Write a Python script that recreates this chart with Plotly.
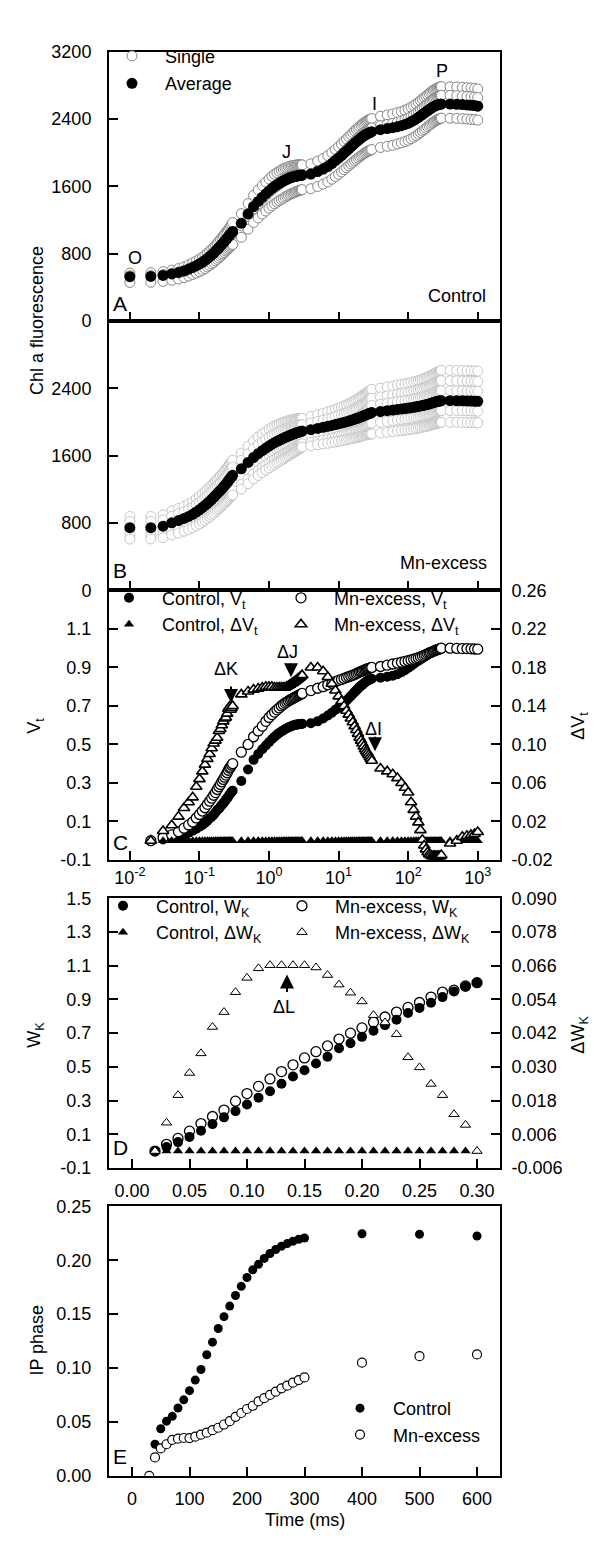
import plotly.graph_objects as go

# ---------------------------------------------------------------- time grid (ms)
T_FAST = [0.01, 0.02, 0.03, 0.04, 0.05, 0.06, 0.07, 0.08, 0.09, 0.10,
          0.11, 0.12, 0.13, 0.14, 0.15, 0.16, 0.17, 0.18, 0.19, 0.20,
          0.21, 0.22, 0.23, 0.24, 0.25, 0.26, 0.27, 0.28, 0.29, 0.30]
T_MID = [0.4, 0.5, 0.6, 0.7, 0.8, 0.9, 1.0, 1.1, 1.2, 1.3, 1.4, 1.5, 1.6, 1.7,
         1.8, 1.9, 2.0, 2.1, 2.2, 2.3, 2.4, 2.5, 2.6, 2.7, 2.8, 2.9, 3.0]
T_SLOW = [4, 5, 6, 7, 8, 9, 10, 11, 12, 13, 14, 15, 16, 17, 18, 19, 20,
          21, 22, 23, 24, 25, 26, 27, 28, 29, 30]
T_LONG = [40, 50, 60, 70, 80, 90, 100, 110, 120, 130, 140, 150, 160, 170,
          180, 190, 200, 210, 220, 230, 240, 250, 260, 270, 280, 290, 300]
T_END = [400, 500, 600, 700, 800, 900, 1000]
TIME_MS = T_FAST + T_MID + T_SLOW + T_LONG + T_END
TIME_NORM = TIME_MS[1:]          # Vt / dVt start at 20 us

# ---------------------------------------------------------------- panel A (control)
A_AVG = [527, 530, 542, 559, 575, 594, 616, 637, 657, 678, 698, 719, 743, 766, 786, 807, 829, 850, 870, 891, 911, 928, 946, 967, 983, 999, 1018, 1034, 1051, 1063,
         1160, 1270, 1360, 1420, 1470, 1510, 1545, 1575, 1598, 1618, 1635, 1650, 1663, 1674, 1684, 1692, 1700, 1706, 1711, 1715, 1719, 1722, 1725, 1727, 1729, 1731, 1733,
         1745, 1775, 1805, 1835, 1870, 1905, 1935, 1965, 1995, 2020, 2045, 2068, 2090, 2110, 2128, 2145, 2160, 2174, 2187, 2198, 2208, 2217, 2225, 2232, 2238, 2243, 2248,
         2272, 2285, 2296, 2308, 2320, 2334, 2348, 2365, 2382, 2400, 2418, 2436, 2452, 2468, 2483, 2497, 2510, 2522, 2533, 2543, 2551, 2558, 2564, 2569, 2572, 2575, 2577,
         2576, 2574, 2570, 2566, 2562, 2558, 2552]
A_SINGLE_1 = [569, 573, 586, 604, 622, 643, 667, 690, 712, 735, 757, 780, 806, 831, 853, 876, 900, 923, 945, 968, 990, 1009, 1029, 1051, 1069, 1087, 1108, 1126, 1145, 1169,
              1275, 1394, 1492, 1556, 1608, 1650, 1687, 1718, 1742, 1762, 1779, 1794, 1806, 1816, 1824, 1831, 1838, 1842, 1846, 1849, 1851, 1853, 1854, 1855, 1853, 1854, 1854,
              1867, 1899, 1931, 1963, 2001, 2038, 2070, 2103, 2135, 2161, 2188, 2213, 2236, 2258, 2277, 2295, 2311, 2326, 2340, 2352, 2363, 2372, 2381, 2388, 2395, 2400, 2405,
              2432, 2447, 2459, 2473, 2487, 2503, 2519, 2538, 2557, 2577, 2597, 2618, 2636, 2654, 2671, 2687, 2702, 2716, 2729, 2741, 2750, 2759, 2766, 2772, 2777, 2781, 2783,
              2782, 2780, 2776, 2771, 2767, 2763, 2756]
A_SINGLE_2 = [538, 540, 551, 567, 582, 601, 622, 642, 661, 681, 700, 720, 742, 764, 783, 802, 823, 842, 860, 879, 898, 913, 929, 948, 962, 976, 993, 1007, 1022, 1031,
              1131, 1242, 1333, 1394, 1446, 1489, 1526, 1559, 1582, 1605, 1624, 1640, 1655, 1667, 1679, 1689, 1698, 1706, 1711, 1715, 1719, 1722, 1725, 1727, 1729, 1731, 1733,
              1746, 1778, 1809, 1841, 1877, 1914, 1945, 1977, 2009, 2036, 2062, 2087, 2111, 2133, 2152, 2171, 2188, 2204, 2219, 2232, 2244, 2254, 2264, 2273, 2281, 2288, 2293,
              2319, 2334, 2347, 2361, 2375, 2391, 2408, 2427, 2446, 2466, 2487, 2507, 2526, 2544, 2561, 2578, 2593, 2607, 2621, 2633, 2643, 2652, 2661, 2668, 2673, 2678, 2680,
              2679, 2677, 2673, 2669, 2664, 2660, 2654]
A_SINGLE_3 = [458, 461, 471, 485, 499, 515, 534, 552, 569, 587, 604, 622, 642, 661, 678, 696, 715, 732, 749, 767, 783, 798, 813, 830, 843, 857, 872, 886, 900, 909,
              994, 1090, 1170, 1224, 1270, 1306, 1340, 1369, 1392, 1411, 1429, 1445, 1458, 1471, 1484, 1494, 1503, 1512, 1519, 1525, 1532, 1538, 1544, 1547, 1553, 1556, 1560,
              1571, 1598, 1625, 1652, 1684, 1716, 1743, 1771, 1798, 1821, 1844, 1865, 1885, 1903, 1920, 1935, 1950, 1963, 1975, 1986, 1996, 2005, 2013, 2020, 2026, 2031, 2037,
              2061, 2075, 2087, 2103, 2116, 2131, 2146, 2164, 2182, 2201, 2220, 2239, 2256, 2273, 2289, 2307, 2322, 2335, 2348, 2360, 2370, 2379, 2387, 2394, 2400, 2405, 2409,
              2408, 2406, 2403, 2399, 2395, 2392, 2386]

# ---------------------------------------------------------------- panel B (Mn-excess)
B_AVG = [745, 746, 764, 803, 830, 855, 880, 905, 932, 958, 985, 1010, 1035, 1058, 1082, 1105, 1128, 1150, 1170, 1188, 1207, 1226, 1245, 1263, 1282, 1300, 1318, 1336, 1352, 1368,
         1445, 1520, 1580, 1625, 1660, 1690, 1715, 1737, 1755, 1770, 1784, 1796, 1807, 1817, 1826, 1834, 1842, 1849, 1856, 1862, 1867, 1872, 1877, 1881, 1885, 1889, 1893,
         1910, 1925, 1937, 1950, 1960, 1970, 1980, 1988, 1996, 2004, 2012, 2020, 2027, 2034, 2041, 2048, 2055, 2062, 2069, 2076, 2082, 2088, 2094, 2099, 2104, 2109, 2114,
         2125, 2135, 2143, 2150, 2156, 2161, 2166, 2171, 2176, 2181, 2186, 2191, 2196, 2201, 2206, 2211, 2216, 2221, 2226, 2231, 2236, 2240, 2244, 2247, 2250, 2252, 2254,
         2254, 2253, 2252, 2251, 2250, 2248, 2246]
B_SINGLE_1 = [879, 879, 898, 944, 974, 1001, 1029, 1056, 1087, 1115, 1145, 1172, 1200, 1224, 1250, 1274, 1299, 1323, 1343, 1361, 1382, 1401, 1421, 1439, 1459, 1477, 1495, 1514, 1529, 1546,
              1630, 1712, 1776, 1823, 1859, 1889, 1916, 1937, 1953, 1966, 1978, 1988, 1997, 2004, 2010, 2016, 2021, 2025, 2029, 2033, 2035, 2037, 2038, 2041, 2041, 2042, 2044,
              2067, 2087, 2104, 2122, 2136, 2151, 2166, 2179, 2192, 2204, 2217, 2230, 2242, 2254, 2266, 2277, 2289, 2301, 2313, 2325, 2334, 2345, 2356, 2363, 2371, 2381, 2389,
              2403, 2417, 2428, 2438, 2447, 2455, 2463, 2471, 2478, 2486, 2494, 2502, 2510, 2518, 2526, 2534, 2544, 2552, 2560, 2568, 2576, 2583, 2592, 2598, 2603, 2608, 2615,
              2614, 2613, 2612, 2611, 2610, 2608, 2605]
B_SINGLE_2 = [820, 820, 839, 881, 910, 936, 963, 989, 1018, 1045, 1074, 1100, 1126, 1150, 1175, 1199, 1223, 1245, 1266, 1284, 1304, 1323, 1342, 1360, 1379, 1398, 1416, 1434, 1449, 1464,
              1545, 1623, 1686, 1732, 1766, 1796, 1821, 1843, 1860, 1874, 1887, 1898, 1908, 1917, 1923, 1929, 1936, 1941, 1947, 1951, 1955, 1958, 1961, 1964, 1964, 1966, 1969,
              1988, 2008, 2022, 2040, 2052, 2067, 2079, 2091, 2102, 2114, 2125, 2137, 2147, 2158, 2168, 2179, 2189, 2200, 2210, 2221, 2230, 2240, 2249, 2259, 2266, 2276, 2283,
              2297, 2310, 2321, 2331, 2339, 2347, 2354, 2362, 2370, 2377, 2385, 2393, 2400, 2408, 2416, 2423, 2431, 2439, 2446, 2454, 2462, 2468, 2475, 2481, 2484, 2488, 2491,
              2491, 2490, 2488, 2487, 2486, 2484, 2482]
B_SINGLE_3 = [708, 708, 725, 762, 787, 810, 833, 856, 881, 905, 930, 953, 976, 997, 1019, 1040, 1061, 1081, 1099, 1116, 1133, 1150, 1167, 1183, 1200, 1216, 1232, 1248, 1263, 1272,
              1345, 1417, 1474, 1518, 1554, 1584, 1609, 1631, 1650, 1666, 1681, 1694, 1706, 1719, 1729, 1739, 1748, 1757, 1765, 1773, 1779, 1786, 1794, 1800, 1806, 1812, 1817,
              1839, 1860, 1877, 1895, 1911, 1927, 1942, 1956, 1970, 1984, 1998, 2012, 2025, 2038, 2051, 2064, 2078, 2091, 2104, 2118, 2130, 2142, 2155, 2166, 2178, 2187, 2199,
              2211, 2222, 2232, 2240, 2248, 2254, 2260, 2267, 2273, 2279, 2285, 2292, 2298, 2304, 2311, 2317, 2323, 2330, 2336, 2343, 2349, 2354, 2360, 2364, 2368, 2371, 2373,
              2373, 2372, 2371, 2370, 2369, 2367, 2365]
B_SINGLE_4 = [656, 656, 672, 706, 730, 752, 774, 796, 819, 843, 866, 888, 909, 929, 949, 969, 989, 1007, 1024, 1040, 1056, 1072, 1087, 1103, 1119, 1134, 1149, 1164, 1177, 1190,
              1260, 1328, 1384, 1427, 1461, 1491, 1516, 1539, 1557, 1574, 1590, 1604, 1617, 1630, 1642, 1652, 1663, 1673, 1682, 1691, 1699, 1707, 1716, 1723, 1729, 1736, 1742,
              1759, 1774, 1786, 1800, 1809, 1820, 1832, 1839, 1848, 1858, 1865, 1875, 1883, 1890, 1898, 1907, 1913, 1922, 1930, 1939, 1945, 1952, 1960, 1967, 1974, 1980, 1987,
              1998, 2008, 2017, 2024, 2030, 2036, 2041, 2046, 2052, 2057, 2063, 2068, 2074, 2079, 2085, 2090, 2095, 2101, 2106, 2112, 2118, 2122, 2126, 2130, 2133, 2135, 2137,
              2137, 2136, 2135, 2134, 2133, 2131, 2129]
B_SINGLE_5 = [611, 612, 627, 659, 682, 703, 724, 745, 768, 790, 813, 834, 855, 875, 896, 915, 935, 954, 971, 987, 1003, 1019, 1035, 1051, 1067, 1082, 1097, 1113, 1126, 1135,
              1204, 1269, 1324, 1365, 1399, 1430, 1454, 1478, 1499, 1515, 1532, 1546, 1561, 1575, 1587, 1599, 1610, 1622, 1633, 1642, 1652, 1660, 1671, 1680, 1687, 1696, 1704,
              1717, 1731, 1739, 1749, 1758, 1765, 1772, 1779, 1784, 1790, 1797, 1802, 1806, 1812, 1816, 1821, 1827, 1831, 1835, 1841, 1845, 1848, 1853, 1856, 1858, 1858, 1860,
              1870, 1879, 1887, 1894, 1899, 1904, 1909, 1914, 1919, 1924, 1929, 1934, 1939, 1943, 1948, 1953, 1958, 1963, 1968, 1973, 1978, 1982, 1986, 1989, 1992, 1995, 1997,
              1997, 1996, 1995, 1994, 1993, 1992, 1990]

# ---------------------------------------------------------------- panel C (Vt, dVt)
VT_CONTROL = [0, 0.006, 0.014, 0.022, 0.031, 0.042, 0.052, 0.062, 0.072, 0.082, 0.092, 0.104, 0.115, 0.125, 0.135, 0.146, 0.159, 0.166, 0.176, 0.186, 0.194, 0.203, 0.213, 0.221, 0.229, 0.238, 0.246, 0.254, 0.260,
              0.31, 0.37, 0.42, 0.45, 0.475, 0.495, 0.512, 0.527, 0.54, 0.55, 0.56, 0.567, 0.573, 0.579, 0.584, 0.588, 0.592, 0.595, 0.598, 0.600, 0.602, 0.603, 0.604, 0.605, 0.606, 0.606, 0.607,
              0.61, 0.62, 0.635, 0.65, 0.665, 0.68, 0.69, 0.70, 0.715, 0.728, 0.74, 0.752, 0.762, 0.772, 0.781, 0.79, 0.798, 0.805, 0.811, 0.817, 0.822, 0.827, 0.831, 0.834, 0.837, 0.839, 0.841,
              0.847, 0.852, 0.857, 0.865, 0.875, 0.886, 0.897, 0.908, 0.918, 0.927, 0.935, 0.942, 0.948, 0.954, 0.96, 0.966, 0.971, 0.975, 0.979, 0.983, 0.986, 0.989, 0.992, 0.995, 0.997, 0.999, 1.0,
              1.0, 0.999, 0.998, 0.998, 0.997, 0.996, 0.995]
VT_MN = [0, 0.016, 0.030, 0.047, 0.065, 0.082, 0.097, 0.118, 0.136, 0.154, 0.171, 0.189, 0.205, 0.221, 0.236, 0.250, 0.266, 0.280, 0.292, 0.306, 0.318, 0.330, 0.341, 0.353, 0.366, 0.377, 0.382, 0.392, 0.400,
         0.46, 0.50, 0.54, 0.57, 0.595, 0.62, 0.64, 0.655, 0.668, 0.68, 0.69, 0.70, 0.708, 0.715, 0.72, 0.726, 0.731, 0.735, 0.739, 0.743, 0.747, 0.75, 0.753, 0.756, 0.759, 0.762, 0.765,
         0.78, 0.792, 0.80, 0.81, 0.818, 0.826, 0.833, 0.838, 0.843, 0.848, 0.852, 0.856, 0.86, 0.864, 0.868, 0.872, 0.876, 0.879, 0.882, 0.885, 0.888, 0.891, 0.893, 0.895, 0.897, 0.899, 0.90,
         0.905, 0.912, 0.918, 0.923, 0.927, 0.931, 0.935, 0.939, 0.943, 0.947, 0.951, 0.955, 0.959, 0.963, 0.967, 0.971, 0.975, 0.978, 0.981, 0.984, 0.987, 0.99, 0.992, 0.994, 0.996, 0.998, 1.0,
         1.0, 0.999, 0.998, 0.998, 0.997, 0.996, 0.995]
DVT_MN = [0, 0.010, 0.016, 0.025, 0.034, 0.040, 0.045, 0.056, 0.064, 0.072, 0.079, 0.085, 0.090, 0.096, 0.101, 0.104, 0.107, 0.114, 0.116, 0.120, 0.124, 0.127, 0.128, 0.132, 0.137, 0.139, 0.136, 0.138, 0.140,
          0.152, 0.155, 0.157, 0.158, 0.159, 0.160, 0.160, 0.160, 0.159, 0.159, 0.159, 0.159, 0.159, 0.159, 0.160, 0.161, 0.162, 0.163, 0.164, 0.165, 0.166, 0.167, 0.168, 0.169, 0.170, 0.171, 0.172,
          0.180, 0.180, 0.176, 0.170, 0.163, 0.156, 0.150, 0.145, 0.140, 0.135, 0.131, 0.127, 0.123, 0.119, 0.115, 0.111, 0.107, 0.104, 0.101, 0.098, 0.095, 0.093, 0.091, 0.089, 0.087, 0.085, 0.083,
          0.075, 0.072, 0.069, 0.065, 0.060, 0.055, 0.050, 0.040, 0.032, 0.025, 0.019, 0.011, 0.001, -0.005, -0.009, -0.012, -0.014, -0.015, -0.016, -0.016, -0.016, -0.016, -0.016, -0.016, -0.016, -0.016, -0.015,
          -0.003, 0.000, 0.004, 0.005, 0.006, 0.007, 0.009]
DVT_CONTROL = [0.0] * len(TIME_NORM)   # control minus itself

# ---------------------------------------------------------------- panel D (WK, dWK)
TIME_K = [0.02, 0.03, 0.04, 0.05, 0.06, 0.07, 0.08, 0.09, 0.10, 0.11, 0.12, 0.13, 0.14, 0.15,
          0.16, 0.17, 0.18, 0.19, 0.20, 0.21, 0.22, 0.23, 0.24, 0.25, 0.26, 0.27, 0.28, 0.29, 0.30]
WK_CONTROL = [0, 0.024, 0.053, 0.084, 0.12, 0.16, 0.20, 0.237, 0.276, 0.317, 0.355, 0.40, 0.443, 0.48,
              0.52, 0.56, 0.61, 0.64, 0.678, 0.714, 0.747, 0.78, 0.82, 0.85, 0.88, 0.914, 0.947, 0.976, 1.0]
WK_MN = [0, 0.04, 0.075, 0.118, 0.163, 0.205, 0.243, 0.296, 0.341, 0.384, 0.428, 0.472, 0.512, 0.553,
         0.59, 0.624, 0.665, 0.70, 0.731, 0.765, 0.796, 0.825, 0.853, 0.882, 0.914, 0.943, 0.955, 0.98, 1.0]
DWK_MN = [0.0, 0.0101, 0.0199, 0.0278, 0.0348, 0.0442, 0.0495, 0.0566, 0.0617, 0.0651, 0.0662, 0.0662, 0.0662, 0.0662,
          0.0654, 0.0627, 0.0593, 0.0564, 0.0533, 0.0484, 0.0458, 0.0416, 0.0334, 0.0298, 0.0239, 0.0199, 0.0131, 0.0093, 0.0]
DWK_CONTROL = [0.0] * len(TIME_K)

# ---------------------------------------------------------------- panel E (IP phase)
TIME_IP_CONTROL = [40, 50, 60, 70, 80, 90, 100, 110, 120, 130, 140, 150, 160, 170, 180, 190, 200,
                   210, 220, 230, 240, 250, 260, 270, 280, 290, 300, 400, 500, 600]
IP_CONTROL = [0.0293, 0.0437, 0.0507, 0.0552, 0.0629, 0.0705, 0.079, 0.0888, 0.0986, 0.1123, 0.124, 0.1367, 0.1477, 0.1575,
              0.1673, 0.1758, 0.184, 0.1911, 0.1962, 0.2017, 0.2063, 0.21, 0.2131, 0.2155, 0.2177, 0.2195, 0.2207, 0.2246, 0.2241, 0.2225]
TIME_IP_MN = [30] + TIME_IP_CONTROL
IP_MN = [0, 0.0171, 0.0254, 0.0293, 0.0333, 0.0345, 0.0351, 0.035, 0.0363, 0.0382, 0.04, 0.0424, 0.0446, 0.0476, 0.0507,
         0.0547, 0.0583, 0.062, 0.065, 0.069, 0.072, 0.0751, 0.0781, 0.0812, 0.0836, 0.0864, 0.0888, 0.0913, 0.105, 0.111, 0.1126]

# ---------------------------------------------------------------- ticks
LOG_TICKS = [0.01, 0.1, 1, 10, 100, 1000]
LOG_TICKTEXT = ["10<sup>-2</sup>", "10<sup>-1</sup>", "10<sup>0</sup>", "10<sup>1</sup>", "10<sup>2</sup>", "10<sup>3</sup>"]
F_TICKS_A = [0, 800, 1600, 2400, 3200]
F_TICKS_B = [0, 800, 1600, 2400]
VT_TICKS = [-0.1, 0.1, 0.3, 0.5, 0.7, 0.9, 1.1]
DVT_TICKS = [-0.02, 0.02, 0.06, 0.10, 0.14, 0.18, 0.22, 0.26]
WK_TICKS = [-0.1, 0.1, 0.3, 0.5, 0.7, 0.9, 1.1, 1.3, 1.5]
DWK_TICKS = [-0.006, 0.006, 0.018, 0.030, 0.042, 0.054, 0.066, 0.078, 0.090]
K_TICKS = [0, 0.05, 0.10, 0.15, 0.20, 0.25, 0.30]
IP_TICKS = [0, 0.05, 0.10, 0.15, 0.20, 0.25]
TIME_TICKS = [0, 100, 200, 300, 400, 500, 600]

# ---------------------------------------------------------------- geometry helpers
W, H = 600, 1541
PL, PR = 101, 492


def xp(px):
    return (px - PL) / (PR - PL)


def yp(py):
    return 1 - py / H


FONT = "Liberation Sans, Arial, sans-serif"
FS = 18

AX = dict(showline=True, linecolor="black", linewidth=2, mirror=True,
          ticks="inside", ticklen=9, tickwidth=2, tickcolor="black",
          showgrid=False, zeroline=False, ticklabelstandoff=6,
          tickfont=dict(size=FS, color="black", family=FONT))
LEFT = dict(AX, ticklabelstandoff=12)

fig = go.Figure()


def marker(symbol, size, fill, line="black", lw=0):
    return dict(symbol=symbol, size=size, color=fill, line=dict(color=line, width=lw))


# A
for i, s in enumerate([A_SINGLE_1, A_SINGLE_2, A_SINGLE_3]):
    fig.add_trace(go.Scatter(x=TIME_MS, y=s, mode="markers", name="Single",
                             marker=marker("circle", 10, "white", "#858585", 1),
                             legendgroup="single", showlegend=(i == 0), legend="legend",
                             xaxis="x", yaxis="y"))
fig.add_trace(go.Scatter(x=TIME_MS, y=A_AVG, mode="markers", name="Average",
                         marker=marker("circle", 11, "black"), legendgroup="avg",
                         legend="legend", xaxis="x", yaxis="y"))

# B
for s in [B_SINGLE_1, B_SINGLE_2, B_SINGLE_3, B_SINGLE_4, B_SINGLE_5]:
    fig.add_trace(go.Scatter(x=TIME_MS, y=s, mode="markers", showlegend=False,
                             marker=marker("circle", 10, "white", "#c6c6c6", 1),
                             xaxis="x2", yaxis="y2"))
fig.add_trace(go.Scatter(x=TIME_MS, y=B_AVG, mode="markers", showlegend=False,
                         marker=marker("circle", 11, "black"), xaxis="x2", yaxis="y2"))

# C
fig.add_trace(go.Scatter(x=TIME_NORM, y=VT_CONTROL, mode="markers", name="Control, V<sub>t</sub>",
                         marker=marker("circle", 10, "black"), legend="legend2", legendgroup="c1",
                         xaxis="x3", yaxis="y3"))
fig.add_trace(go.Scatter(x=TIME_NORM, y=VT_MN, mode="markers", name="Mn-excess, V<sub>t</sub>",
                         marker=marker("circle", 10, "white", "black", 1.3), legend="legend3", legendgroup="c3",
                         xaxis="x3", yaxis="y3"))
fig.add_trace(go.Scatter(x=TIME_NORM, y=DVT_CONTROL, mode="markers", name="Control, \u0394V<sub>t</sub>",
                         marker=marker("triangle-up", 9, "black"), legend="legend2", legendgroup="c2",
                         xaxis="x3", yaxis="y6"))
fig.add_trace(go.Scatter(x=TIME_NORM, y=DVT_MN, mode="markers", name="Mn-excess, \u0394V<sub>t</sub>",
                         marker=marker("triangle-up", 10, "white", "black", 1.6), legend="legend3", legendgroup="c4",
                         xaxis="x3", yaxis="y6"))

# D
fig.add_trace(go.Scatter(x=TIME_K, y=WK_MN, mode="markers", name="Mn-excess, W<sub>K</sub>",
                         marker=marker("circle", 10, "white", "black", 1.3), legend="legend5", legendgroup="d3",
                         xaxis="x4", yaxis="y4"))
fig.add_trace(go.Scatter(x=TIME_K, y=WK_CONTROL, mode="markers", name="Control, W<sub>K</sub>",
                         marker=marker("circle", 10, "black"), legend="legend4", legendgroup="d1",
                         xaxis="x4", yaxis="y4"))
fig.add_trace(go.Scatter(x=TIME_K, y=DWK_CONTROL, mode="markers", name="Control, \u0394W<sub>K</sub>",
                         marker=marker("triangle-up", 9, "black"), legend="legend4", legendgroup="d2",
                         xaxis="x4", yaxis="y7"))
fig.add_trace(go.Scatter(x=TIME_K, y=DWK_MN, mode="markers", name="Mn-excess, \u0394W<sub>K</sub>",
                         marker=marker("triangle-up", 9, "white", "black", 1), legend="legend5", legendgroup="d4",
                         xaxis="x4", yaxis="y7"))

# E
fig.add_trace(go.Scatter(x=TIME_IP_CONTROL, y=IP_CONTROL, mode="markers", name="Control",
                         marker=marker("circle", 9, "black"), legend="legend6", legendgroup="e1",
                         xaxis="x5", yaxis="y5"))
fig.add_trace(go.Scatter(x=TIME_IP_MN, y=IP_MN, mode="markers", name="Mn-excess",
                         marker=marker("circle", 9, "white", "black", 1.2), legend="legend6", legendgroup="e2",
                         xaxis="x5", yaxis="y5"))

# ---------------------------------------------------------------- axes
logx = dict(AX, type="log", range=[-2.3, 3.32], tickvals=LOG_TICKS)
fig.update_layout(
    xaxis=dict(logx, anchor="y", domain=[0, 1], showticklabels=False),
    yaxis=dict(LEFT, anchor="x", domain=[yp(307), yp(34)], range=[0, 3200], tickvals=F_TICKS_A),
    xaxis2=dict(logx, anchor="y2", domain=[0, 1], showticklabels=False),
    yaxis2=dict(LEFT, anchor="x2", domain=[yp(580), yp(307)], range=[0, 3200], tickvals=F_TICKS_B),
    xaxis3=dict(logx, anchor="y3", domain=[0, 1], ticktext=LOG_TICKTEXT, ticklabelstandoff=0),
    yaxis3=dict(LEFT, anchor="x3", domain=[yp(853), yp(580)], range=[-0.1, 1.3],
                tickvals=VT_TICKS, ticktext=[f"{v:.1f}" for v in VT_TICKS]),
    yaxis6=dict(AX, anchor="x3", overlaying="y3", side="right", range=[-0.02, 0.26],
                tickvals=DVT_TICKS, ticktext=[f"{v:.2f}" for v in DVT_TICKS]),
    xaxis4=dict(AX, anchor="y4", domain=[0, 1], range=[-0.02, 0.32],
                tickvals=K_TICKS, ticktext=[f"{v:.2f}" for v in K_TICKS]),
    yaxis4=dict(LEFT, anchor="x4", domain=[yp(1165), yp(892)], range=[-0.1, 1.5],
                tickvals=WK_TICKS, ticktext=[f"{v:.1f}" for v in WK_TICKS]),
    yaxis7=dict(AX, anchor="x4", overlaying="y4", side="right", range=[-0.006, 0.090],
                tickvals=DWK_TICKS, ticktext=[f"{v:.3f}" for v in DWK_TICKS]),
    xaxis5=dict(AX, anchor="y5", domain=[0, 1], range=[-40, 640], tickvals=TIME_TICKS),
    yaxis5=dict(LEFT, anchor="x5", domain=[yp(1477), yp(1204)], range=[0, 0.25],
                tickvals=IP_TICKS, ticktext=[f"{v:.2f}" for v in IP_TICKS]),
)


# ---------------------------------------------------------------- legends
def leg(x, y, gap):
    return dict(x=xp(x), y=yp(y), xanchor="left", yanchor="top", bgcolor="rgba(0,0,0,0)",
                font=dict(size=FS, color="black", family=FONT), itemwidth=56,
                tracegroupgap=gap, traceorder="grouped")


fig.update_layout(
    legend=leg(91, 20, 1),
    legend2=leg(88, 569, 0),
    legend3=leg(260, 569, 0),
    legend4=leg(82, 881, 0),
    legend5=leg(261, 881, 0),
    legend6=leg(319, 1390, 0),
)

# ---------------------------------------------------------------- text
ann = []


def text(x, y, s, size=FS, angle=0, xanchor="center", yanchor="middle"):
    ann.append(dict(x=xp(x), y=yp(y), xref="paper", yref="paper", text=s, showarrow=False,
                    textangle=angle, xanchor=xanchor, yanchor=yanchor,
                    font=dict(size=size, color="black", family=FONT)))


def arrow(x, y_head, y_tail):
    ann.append(dict(x=xp(x), y=yp(y_head), xref="paper", yref="paper", text="",
                    showarrow=True, ax=0, ay=y_tail - y_head, arrowhead=2,
                    arrowsize=1.4, arrowwidth=2, arrowcolor="black", standoff=0))


text(29, 307, "Chl a fluorescence", angle=-90)
text(28, 717, "V<sub>t</sub>", angle=-90)
text(572, 717, "\u0394V<sub>t</sub>", angle=-90)
text(28, 1030, "W<sub>K</sub>", angle=-90)
text(572, 1030, "\u0394W<sub>K</sub>", angle=-90)
text(29, 1340, "IP phase", angle=-90)
text(297, 1522, "Time (ms)")

for letter, yb in [("A", 303), ("B", 573), ("C", 849), ("D", 1158), ("E", 1471)]:
    text(103, yb, letter, size=21, xanchor="left", yanchor="bottom")

text(449, 282, "Control")
text(435, 552, "Mn-excess")
text(127, 243, "O")
text(278, 136, "J")
text(366, 87, "I")
text(434, 54, "P")

text(218, 660, "\u0394K")
text(279, 642, "\u0394J")
text(365, 720, "\u0394I")
text(276, 1002, "\u0394L")
arrow(223, 694, 676)
arrow(283, 668, 653)
arrow(367, 743, 727)
arrow(279, 969, 988)

fig.update_layout(
    annotations=ann,
    width=W, height=H,
    margin=dict(l=PL, r=W - PR, t=0, b=0),
    paper_bgcolor="white", plot_bgcolor="white",
    font=dict(family=FONT, size=FS, color="black"),
)

fig.write_html("out.html")
